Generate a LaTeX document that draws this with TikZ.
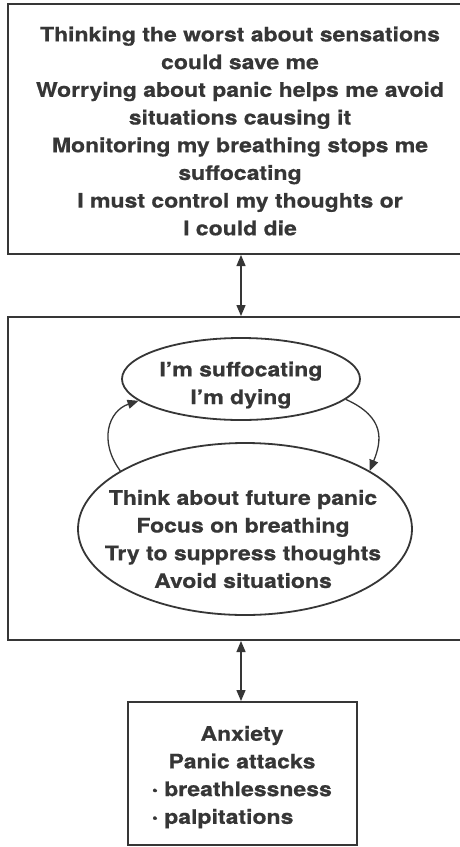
\documentclass[tikz,border=0pt]{standalone}
\usepackage{fontspec}
\usepackage{calc}
\setmainfont{TeX Gyre Heros}[BoldFeatures={FakeStretch=1.15,FakeBold=0.6}]
\usetikzlibrary{arrows.meta,shapes.geometric}
\definecolor{ink}{HTML}{363636}
\newcommand{\dotitem}{\raisebox{1.5pt}{\fontsize{14}{14}\selectfont•} }
\begin{document}
\begin{tikzpicture}[x=1pt,y=-1pt,
  every node/.style={text=ink,font=\fontsize{20}{27.7}\selectfont\bfseries,align=center,inner sep=0pt},
  frame/.style={draw=ink,line width=2pt,rectangle},
  oval/.style={draw=ink,line width=1.8pt,ellipse},
  loop/.style={draw=ink,line width=1.3pt,-{Triangle[length=11pt,width=9pt]}},
  link/.style={draw=ink,line width=1.3pt,{Triangle[length=11pt,width=9pt]}-{Triangle[length=11pt,width=9pt]}}]
\useasboundingbox (0,0) rectangle (459,847);
\fill[white] (0,0) rectangle (459,847);

% beliefs box
\node[frame,minimum width=460pt,minimum height=250pt] (beliefs) at (238,129) {};
\node (beliefstext) at (240,131) {Thinking the worst about sensations\\could save me\\Worrying about panic helps me avoid\\situations causing it\\Monitoring my breathing stops me\\suffocating\\I must control my thoughts or\\I could die};

% maintaining cycle box
\node[frame,minimum width=460pt,minimum height=323pt] (cycle) at (238,478.5) {};
\node[oval,minimum width=238pt,minimum height=82pt] (thought) at (241,379) {};
\node (thoughttext) at (241,385) {I’m suffocating\\I’m dying};
\node[oval,minimum width=334pt,minimum height=172pt] (behaviour) at (245,529) {};
\node (behaviourtext) at (243,539) {Think about future panic\\Focus on breathing\\Try to suppress thoughts\\Avoid situations};

% symptoms box
\node[frame,minimum width=229pt,minimum height=143pt] (symptoms) at (242.5,773.5) {};
\node (symptomstext) at (242,777) {Anxiety\\Panic attacks\\\makebox[\widthof{\dotitem breathlessness}][l]{\dotitem breathlessness}\\\makebox[\widthof{\dotitem breathlessness}][l]{\dotitem palpitations}};

% connectors
\draw[link] (beliefs.south -| thought.center) -- (cycle.north -| thought.center);
\draw[link] (cycle.south -| thought.center) -- (symptoms.north -| thought.center);
\draw[loop] (behaviour.155) .. controls +(-22,-30) and +(-30,10) .. (thought.192);
\draw[loop] (thought.-11) .. controls +(40,18) and +(12,-30) .. (behaviour.25);
\end{tikzpicture}
\end{document}
